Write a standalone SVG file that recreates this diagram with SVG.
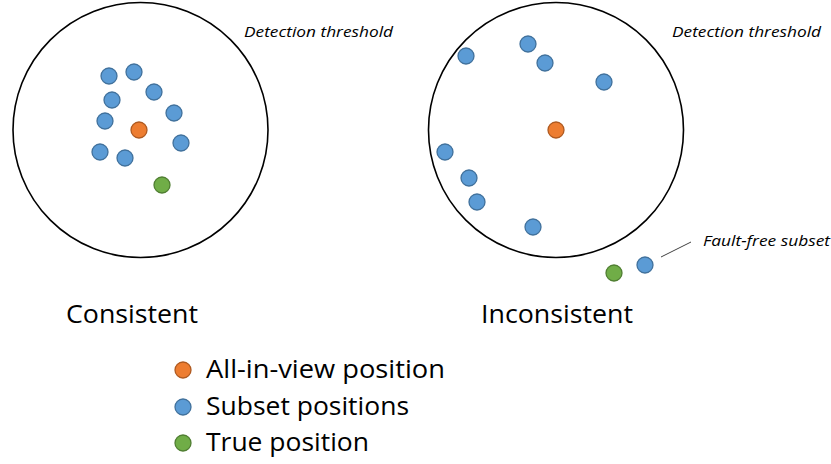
<svg xmlns="http://www.w3.org/2000/svg" width="831" height="464" viewBox="0 0 831 464">
<style>
.ring{fill:none;stroke:#000;stroke-width:1.6}
.b{fill:#5B9BD5;stroke:#41719C;stroke-width:1.3}
.o{fill:#ED7D31;stroke:#AE5A21;stroke-width:1.3}
.g{fill:#70AD47;stroke:#507E32;stroke-width:1.3}
.it{font-family:"Open Sans","Noto Sans",sans-serif;font-style:italic;font-size:15px;fill:#000}
.big{font-family:"Open Sans","Noto Sans",sans-serif;font-size:26px;fill:#000}
</style>
<rect width="831" height="464" fill="#fff"/>
<g id="consistent">
<circle class="ring" cx="140.5" cy="130" r="127.5"/>
<circle class="b" cx="109" cy="76" r="8"/>
<circle class="b" cx="134" cy="72" r="8"/>
<circle class="b" cx="112" cy="100" r="8"/>
<circle class="b" cx="154" cy="92" r="8"/>
<circle class="b" cx="174" cy="113" r="8"/>
<circle class="b" cx="105" cy="121" r="8"/>
<circle class="b" cx="181" cy="143" r="8"/>
<circle class="b" cx="100" cy="152" r="8"/>
<circle class="b" cx="125" cy="158" r="8"/>
<circle class="o" cx="139" cy="130" r="8"/>
<circle class="g" cx="162" cy="185" r="8"/>
<text class="it" x="244" y="37" textLength="149" lengthAdjust="spacingAndGlyphs">Detection threshold</text>
<text class="big" x="66" y="323" textLength="132" lengthAdjust="spacingAndGlyphs">Consistent</text>
</g>
<g id="inconsistent">
<circle class="ring" cx="556" cy="130" r="127.5"/>
<circle class="b" cx="466" cy="56" r="8"/>
<circle class="b" cx="528" cy="44" r="8"/>
<circle class="b" cx="545" cy="63" r="8"/>
<circle class="b" cx="604" cy="82" r="8"/>
<circle class="b" cx="445" cy="152" r="8"/>
<circle class="b" cx="469" cy="178" r="8"/>
<circle class="b" cx="477" cy="202" r="8"/>
<circle class="b" cx="533" cy="227" r="8"/>
<circle class="o" cx="556" cy="130" r="8"/>
<circle class="b" cx="645" cy="265" r="8"/>
<circle class="g" cx="614" cy="273" r="8"/>
<text class="it" x="672" y="37" textLength="149" lengthAdjust="spacingAndGlyphs">Detection threshold</text>
<text class="it" x="703" y="246" textLength="127" lengthAdjust="spacingAndGlyphs">Fault-free subset</text>
<text class="big" x="481" y="323" textLength="152" lengthAdjust="spacingAndGlyphs">Inconsistent</text>
</g>
<g id="connectors">
<line x1="661" y1="257" x2="691" y2="242" stroke="#404040" stroke-width="1"/>
</g>
<g id="legend">
<circle class="o" cx="183" cy="370" r="8"/>
<text class="big" x="206" y="378" textLength="239" lengthAdjust="spacingAndGlyphs">All-in-view position</text>
<circle class="b" cx="183" cy="407" r="8"/>
<text class="big" x="206" y="415" textLength="203" lengthAdjust="spacingAndGlyphs">Subset positions</text>
<circle class="g" cx="183" cy="443" r="8"/>
<text class="big" x="206" y="451" textLength="163" lengthAdjust="spacingAndGlyphs">True position</text>
</g>
</svg>
